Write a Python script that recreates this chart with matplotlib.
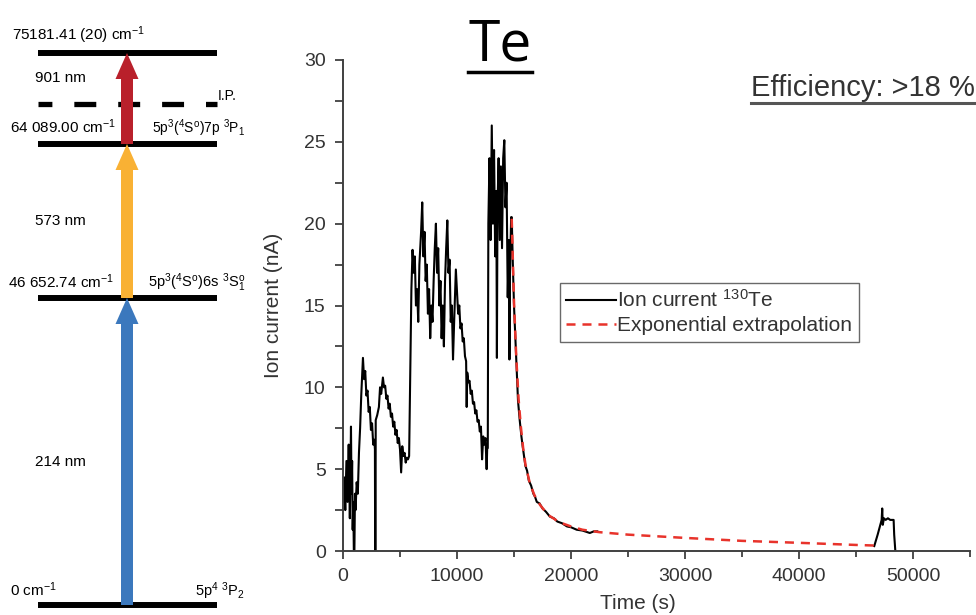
import numpy as np
import matplotlib
matplotlib.use("Agg")
import matplotlib.pyplot as plt
from matplotlib.lines import Line2D

plt.rcParams['font.family'] = ['Liberation Sans', 'DejaVu Sans']
plt.rcParams['mathtext.fontset'] = 'custom'
plt.rcParams['mathtext.rm'] = 'Liberation Sans'
plt.rcParams['mathtext.it'] = 'Liberation Sans:italic'
plt.rcParams['mathtext.default'] = 'regular'
plt.rcParams['lines.scale_dashes'] = False

# ---- ion current trace, NaN = gap in the record ----
time_s = [
    0, 100, 200, 300, 400, 500, 600, 700, 750, 800, 850, 900, 950, 1000, 1050, 1100,
    1200, 1300, 1400, 1500, 1600, 1750, 1850, 1950, 2050, 2150, 2250, 2350, 2450,
    2550, 2650, 2750, 2800, 2820, 2850, 2870, 3000, 3150, 3250, 3350, 3500, 3600,
    3700, 3800, 3900, 4000, 4100, 4200, 4300, 4400, 4500, 4600, 4700, 4800, 4900,
    5000, 5100, 5200, 5300, 5400, 5500, 5600, 5700, 5800,
    6000, 6100, 6200, 6300, 6400, 6500, 6600, 6700, 6850, 6950, 7050, 7150, 7250,
    7350, 7450, 7550, 7650, 7750, 7850, 7950, 8050, 8150, 8250, 8350, 8450, 8550,
    8650, 8750, 8850, 8950, 9050, 9150, 9250, 9350, 9450, 9550, 9650, 9750, 9900,
    10000, 10100, 10200, 10300, 10400, 10500, 10600, 10700, 10800, 10850, 10900,
    11000, 11100, 11200, 11300, 11400, 11500, 11600, 11700, 11800, 11900, 12000,
    12100, 12200, 12300, 12400, 12500, 12600, 12650, 12700,
    12750, 12850, 12950, 13050, 13150, 13250, 13350, 13450, 13500, 13550, 13650,
    13750, 13850, 13950, 14050, 14150, 14250, 14350, 14450, 14550, 14600, 14650,
    14750, 14800, 14900, 15000, 15100, 15200, 15350, 15500, 15650, 15800, 16000,
    16150, 16300, 16500, 16700, 16850, 17000, 17250, 17500, 17800, 18150, 18500,
    18800, 19200, 19650, 20000, 20500, 21000, 21650, 22000, 22300,
    np.nan,
    46600, 46900, 47100, 47250, 47300, 47350, 47450, 47600, 47800, 48000, 48300,
    48350, 48450,
]
current_nA = [
    3.0, 4.5, 2.5, 5.5, 3.0, 6.5, 2.0, 7.6, 3.5, 5.5, 1.3, 3.0, 0.0, 0.0, 3.5, 2.5,
    4.2, 3.5, 6.0, 7.5, 9.5, 11.8, 10.5, 11.0, 9.5, 9.8, 8.5, 8.8, 7.4,
    7.8, 6.5, 6.8, 6.2, 0.0, 0.0, 8.0, 8.3, 8.8, 10.0, 9.6, 10.6, 10.0,
    10.1, 9.3, 9.5, 8.7, 9.0, 8.2, 8.4, 7.6, 7.9, 7.1, 7.4, 6.6, 6.9,
    6.2, 4.8, 6.4, 5.8, 6.0, 5.4, 5.7, 5.6, 5.8,
    16.0, 18.4, 17.0, 18.0, 15.0, 16.0, 14.0, 17.5, 19.5, 21.3, 18.0, 19.5, 16.5,
    17.5, 14.5, 16.0, 13.0, 15.0, 14.0, 16.5, 18.5, 20.0, 17.0, 18.5, 15.0, 16.5,
    13.0, 15.0, 12.5, 16.5, 18.5, 20.2, 17.0, 17.8, 14.0, 15.0, 11.7, 14.0, 17.2,
    15.8, 14.5, 15.0, 13.6, 13.9, 12.8, 13.0, 11.9, 11.6, 8.8, 10.9,
    10.3, 10.4, 9.6, 9.8, 9.0, 9.1, 8.4, 8.6, 7.9, 8.0, 7.3,
    7.6, 5.6, 7.0, 6.5, 6.9, 5.0, 6.3, 6.3,
    20.0, 24.0, 19.0, 26.0, 20.0, 24.5, 18.0, 22.0, 11.8, 21.0, 24.0,
    19.0, 23.5, 18.5, 24.0, 25.1, 21.0, 22.5, 15.5, 19.0, 11.7, 17.0,
    20.4, 20.4, 17.5, 15.0, 13.3, 11.5, 9.2, 8.0, 7.0, 6.2, 5.2,
    4.9, 4.3, 4.0, 3.5, 3.3, 3.0, 2.9, 2.6, 2.4, 2.1, 2.0,
    1.8, 1.7, 1.5, 1.45, 1.3, 1.25, 1.1, 1.2, 1.2,
    np.nan,
    0.3, 1.0, 1.5, 1.9, 2.6, 1.6, 2.0, 1.9, 2.0, 1.9, 1.9,
    1.0, 0.0,
]

# ---- exponential extrapolation ----
fit_time_s = [14800, 15000, 15200, 15400, 15600, 15800, 16000, 16400, 16800, 17300,
              18000, 19000, 20000, 21000, 22500, 25000, 30000, 35000, 40000, 45000, 46800]
fit_current_nA = [20.3, 15.2, 11.8, 9.3, 7.6, 6.3, 5.3, 4.1, 3.4, 2.8,
                  2.2, 1.75, 1.5, 1.3, 1.15, 1.0, 0.8, 0.62, 0.5, 0.37, 0.33]

# ---- energy level scheme ----
level_names = ["0 cm$^{-1}$", "46 652.74 cm$^{-1}$", "64 089.00 cm$^{-1}$", "75181.41 (20) cm$^{-1}$"]
level_terms = ["5p$^{4}$ $^{3}$P$_{2}$", "5p$^{3}$($^{4}$S$^{o}$)6s $^{3}$S$_{1}^{o}$",
               "5p$^{3}$($^{4}$S$^{o}$)7p $^{3}$P$_{1}$", ""]
step_labels = ["214 nm", "573 nm", "901 nm"]
step_colors = ["#3b78bd", "#f9b134", "#b9202b"]
# schematic (not to scale) heights of the levels in the drawing
level_y = [605, 298, 144, 53]
ip_y = 104

fig = plt.figure(figsize=(9.76, 6.15), dpi=100)

# ================= left: level scheme =================
ax0 = fig.add_axes([0, 0, 260 / 976, 1])
ax0.set_xlim(0, 260)
ax0.set_ylim(615, 0)
ax0.axis("off")

x_l, x_r, x_arrow = 38, 217, 127
for y in level_y:
    ax0.plot([x_l, x_r], [y, y], color="black", lw=4.3, solid_capstyle="butt")
ax0.plot([x_l, x_r], [ip_y, ip_y], color="black", lw=3.8,
         linestyle=(5.8, (15.8, 15.8)), solid_capstyle="butt")
ax0.text(218, ip_y - 8, "I.P.", fontsize=10, ha="left", va="center")

label_dy = [11, 0, -20]
for i in range(3):
    y0, y1 = level_y[i], level_y[i + 1]
    ax0.arrow(x_arrow, y0, 0, y1 - y0, width=12, head_width=23, head_length=26,
              length_includes_head=True, color=step_colors[i], lw=0, zorder=3)
    ax0.text(35, (y0 + y1) / 2 + label_dy[i], step_labels[i], fontsize=11,
             ha="left", va="center")

name_x = [10, 8, 10, 12]
name_dy = [-15, -16, -17, -18]
term_size = [10.5, 10.5, 10, 10]
for i, y in enumerate(level_y):
    ax0.text(name_x[i], y + name_dy[i], level_names[i], fontsize=11, ha="left", va="center")
    if level_terms[i]:
        ax0.text(245, y + name_dy[i] + 1, level_terms[i], fontsize=term_size[i],
                 ha="right", va="center")

# ================= right: ion current =================
ax = fig.add_axes([343 / 976, 1 - 551 / 615, 627 / 976, 491 / 615])
ax.plot(time_s, current_nA, color="black", lw=1.5, label="Ion current $^{130}$Te", zorder=2)
ax.plot(fit_time_s, fit_current_nA, color="#e8332b", lw=1.8, linestyle=(0, (6.5, 5.0)),
        label="Exponential extrapolation", zorder=3)

ax.set_xlim(0, 55000)
ax.set_ylim(0, 30)
ax.set_xticks(np.arange(0, 50001, 10000))
ax.set_xticks(np.arange(5000, 55001, 10000), minor=True)
ax.set_yticks(np.arange(0, 31, 5))
ax.set_yticks(np.arange(2.5, 30, 5), minor=True)
for s in ["top", "right"]:
    ax.spines[s].set_visible(False)
for s in ["left", "bottom"]:
    ax.spines[s].set_linewidth(1.4)
    ax.spines[s].set_color("#404040")
ax.tick_params(which="major", direction="out", length=5.5, width=1.3, color="#404040",
               labelsize=14, labelcolor="#333333")
ax.tick_params(axis="y", which="major", pad=7)
ax.tick_params(axis="x", which="major", pad=7)
ax.tick_params(axis="y", which="minor", direction="out", length=5.5, width=1.3, color="#404040")
ax.tick_params(axis="x", which="minor", direction="out", length=4, width=1.3, color="#404040")
ax.set_xlabel("Time (s)", fontsize=15, color="#333333")
ax.set_ylabel("Ion current (nA)", fontsize=15, color="#333333")
ax.xaxis.set_label_coords(0.47, -0.088)
ax.yaxis.set_label_coords(-0.095, 0.5)

leg = ax.legend(loc="upper left", bbox_to_anchor=(560 / 976, 1 - 283 / 615),
                bbox_transform=fig.transFigure, fontsize=15, frameon=True, fancybox=False,
                handlelength=2.4, handletextpad=0.05, borderpad=0.3, labelspacing=0.25,
                borderaxespad=0)
leg.get_frame().set_edgecolor("#444444")
leg.get_frame().set_linewidth(1.0)
for t in leg.get_texts():
    t.set_color("#333333")

title = fig.text(500 / 976, 1 - 46 / 615, "Te", fontsize=41, ha="center", va="center",
                 family=["Open Sans", "DejaVu Sans"])
eff = fig.text(975 / 976, 1 - 88 / 615, "Efficiency: >18 %", fontsize=21, ha="right",
               va="center", color="#333333")

# underline the two headings
fig.canvas.draw()
inv = fig.transFigure.inverted()
for txt, ypx, col, lw in [(title, 72, "black", 2.5), (eff, 103, "#555555", 2.2)]:
    bb = txt.get_window_extent()
    (x0, _), (x1, _) = inv.transform([[bb.x0, 0], [bb.x1, 0]])
    fig.add_artist(Line2D([x0, x1], [1 - ypx / 615] * 2, color=col, lw=lw,
                          transform=fig.transFigure))

fig.savefig("out.png", dpi=100)
